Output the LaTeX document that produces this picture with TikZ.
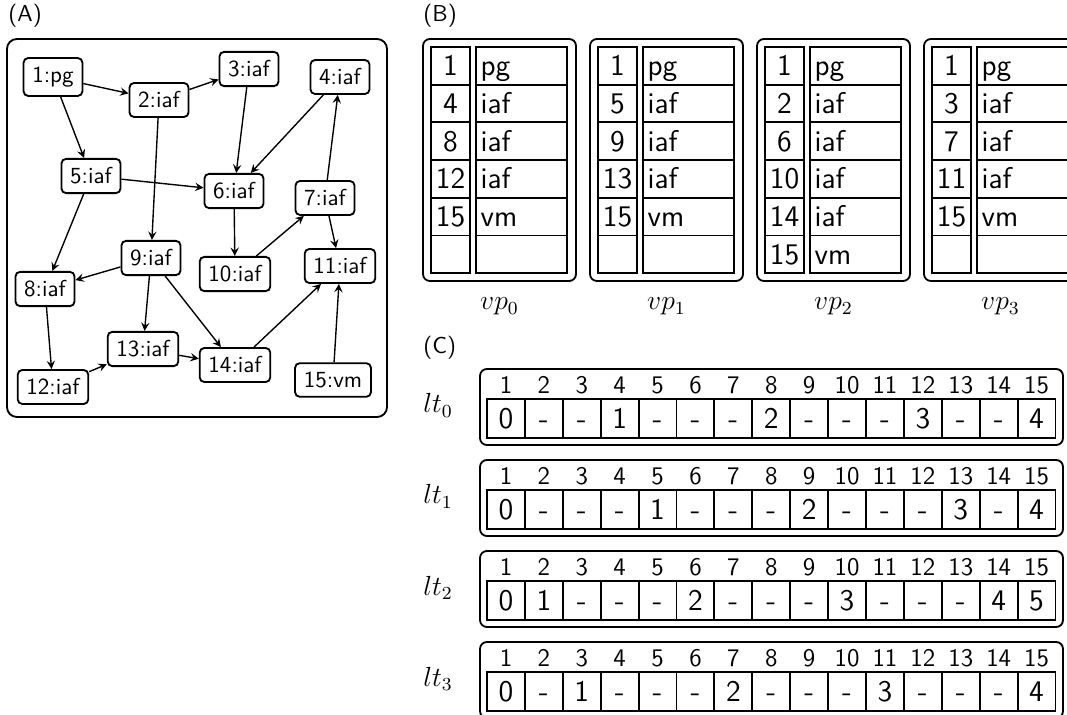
\documentclass[tikz,border=0pt]{standalone}
\newcommand{\cellsize}{\fontsize{13}{15}\selectfont}
\begin{document}
\begin{tikzpicture}[x=0.434pt,y=-0.434pt,
    task/.style={draw,thick,rounded corners=2pt,inner sep=3.8pt,font=\sffamily},
    edge/.style={-stealth,semithick},
    frame/.style={draw,thick,rounded corners=3pt},
    idcell/.style={draw,thick,minimum width=16.9pt,minimum height=16.4pt,inner sep=0pt,
      font=\sffamily\cellsize,text height=8.6pt,text depth=0pt},
    kindcell/.style={draw,thick,minimum height=16.4pt,text width=35.5pt,inner xsep=2pt,
      inner ysep=0pt,align=left,font=\sffamily\cellsize,text height=8.6pt,text depth=0pt},
    ltcell/.style={draw,thick,minimum width=16.45pt,minimum height=16.9pt,inner sep=0pt,
      font=\sffamily\cellsize,text height=8.6pt,text depth=0pt},
    head/.style={inner sep=0pt,font=\sffamily\fontsize{11}{13}\selectfont},
    tag/.style={inner sep=0pt,anchor=west,font=\sffamily}]
  \useasboundingbox (0,0) rectangle (1067,715);
  \clip (0,0) rectangle (1067,715);
  %%% Panel tags
  \node[tag] (tagA) at (8,16) {(A)};
  \node[tag] (tagB) at (423,16) {(B)};
  \node[tag] (tagC) at (423,348) {(C)};
  %%% (A) task graph
  \draw[frame,rounded corners=4.3pt] (7,39) rectangle (387,417);
  \node[task] (t1) at (53,77) {1:pg};
  \node[task] (t2) at (159,100) {2:iaf};
  \node[task] (t3) at (249,69) {3:iaf};
  \node[task] (t4) at (340,77) {4:iaf};
  \node[task] (t5) at (91,176) {5:iaf};
  \node[task] (t6) at (234,191) {6:iaf};
  \node[task] (t7) at (325,198) {7:iaf};
  \node[task] (t8) at (45,289) {8:iaf};
  \node[task] (t9) at (151,258) {9:iaf};
  \node[task] (t10) at (235,274) {10:iaf};
  \node[task] (t11) at (340,266) {11:iaf};
  \node[task] (t12) at (53,387) {12:iaf};
  \node[task] (t13) at (143,349) {13:iaf};
  \node[task] (t14) at (235,365) {14:iaf};
  \node[task] (t15) at (333,380) {15:vm};
  \foreach \a/\b in {1/2,2/3,1/5,3/6,4/6,5/6,2/9,6/10,10/7,7/4,7/11,5/8,9/8,9/13,9/14,8/12,12/13,13/14,14/11,15/11}
    \draw[edge] (t\a) -- (t\b);
  %%% (B) vp tables
  \foreach \k in {0,...,3} {
    \draw[frame] (423+167*\k,39) rectangle +(153,242);
    \node[anchor=base,font=\large] (vp\k) at (499.5+167*\k,310) {$vp_{\k}$};
  }
  \foreach \id/\kd [count=\r] in {1/pg,4/iaf,8/iaf,12/iaf,15/vm,{}/{}} {
    \node[idcell] (v0i\r) at (450.5,28.15+37.7*\r) {\id};
    \node[kindcell] (v0k\r) at (521.5,28.15+37.7*\r) {\kd};
  }
  \foreach \id/\kd [count=\r] in {1/pg,5/iaf,9/iaf,13/iaf,15/vm,{}/{}} {
    \node[idcell] (v1i\r) at (617.5,28.15+37.7*\r) {\id};
    \node[kindcell] (v1k\r) at (688.5,28.15+37.7*\r) {\kd};
  }
  \foreach \id/\kd [count=\r] in {1/pg,2/iaf,6/iaf,10/iaf,14/iaf,15/vm} {
    \node[idcell] (v2i\r) at (784.5,28.15+37.7*\r) {\id};
    \node[kindcell] (v2k\r) at (855.5,28.15+37.7*\r) {\kd};
  }
  \foreach \id/\kd [count=\r] in {1/pg,3/iaf,7/iaf,11/iaf,15/vm,{}/{}} {
    \node[idcell] (v3i\r) at (951.5,28.15+37.7*\r) {\id};
    \node[kindcell] (v3k\r) at (1022.5,28.15+37.7*\r) {\kd};
  }
  %%% (C) lt tables
  \foreach \k in {0,...,3} {
    \draw[frame] (480,369+91*\k) rectangle +(583,76);
    \node[inner sep=0pt,anchor=base west,font=\large] (lt\k) at (423,413+91*\k) {$lt_{\k}$};
    \foreach \i in {1,...,15}
      \node[head] (l\k h\i) at (468.05+37.9*\i,385+91*\k) {\i};
  }
  \foreach \v [count=\i] in {0,-,-,1,-,-,-,2,-,-,-,3,-,-,4}
    \node[ltcell] (l0c\i) at (468.05+37.9*\i,418.5) {\v};
  \foreach \v [count=\i] in {0,-,-,-,1,-,-,-,2,-,-,-,3,-,4}
    \node[ltcell] (l1c\i) at (468.05+37.9*\i,509.5) {\v};
  \foreach \v [count=\i] in {0,1,-,-,-,2,-,-,-,3,-,-,-,4,5}
    \node[ltcell] (l2c\i) at (468.05+37.9*\i,600.5) {\v};
  \foreach \v [count=\i] in {0,-,1,-,-,-,2,-,-,-,3,-,-,-,4}
    \node[ltcell] (l3c\i) at (468.05+37.9*\i,691.5) {\v};
\end{tikzpicture}
\end{document}
